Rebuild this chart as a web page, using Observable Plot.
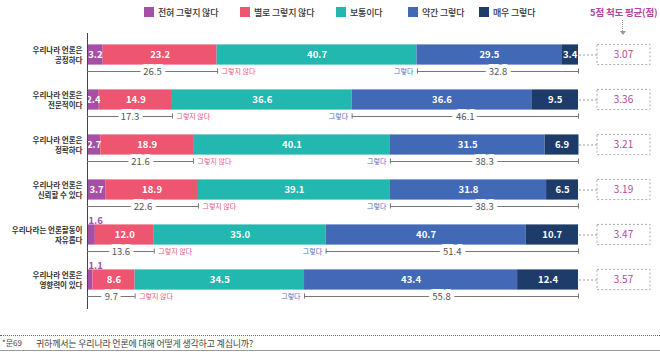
<!DOCTYPE html>
<html><head><meta charset="utf-8">
<script src="https://cdn.jsdelivr.net/npm/d3@7"></script>
<script src="https://cdn.jsdelivr.net/npm/@observablehq/plot@0.6"></script>
<style>
body{margin:0;background:#fff;font-family:"Noto Sans CJK KR","Noto Sans",sans-serif;}
#wrap{position:relative;width:660px;height:357px;overflow:hidden;}
.leg{position:absolute;top:6px;height:12px;font-size:9px;color:#333;display:flex;align-items:center;white-space:nowrap;font-weight:500;letter-spacing:-0.2px}
.sw{width:10px;height:10px;margin-right:4px}
#title{position:absolute;left:590px;top:5px;font-size:9.5px;font-weight:700;color:#b4479c;white-space:nowrap;letter-spacing:-0.2px}
#arrowline{position:absolute;left:622px;top:20px;height:11px;border-left:1px dotted #999}
#arrowhead{position:absolute;left:620px;top:31px;width:0;height:0;border-left:3px solid transparent;border-right:3px solid transparent;border-top:4px solid #999}
#chart{position:absolute;left:0;top:0}
#dash{position:absolute;left:0;top:335px;width:660px;border-top:1px dotted #666}
#solid{position:absolute;left:0;top:350px;width:660px;border-top:1px solid #999}
#qno{position:absolute;left:2px;top:337px;font-size:8px;color:#444}
#qtxt{position:absolute;left:36px;top:336.5px;font-size:9px;color:#444;white-space:nowrap;letter-spacing:-0.2px}
</style>
</head><body>
<div id="wrap">
  <div id="chart"></div>
  <div id="legend"></div>
  <div id="title">5점 척도 평균(점)</div>
  <div id="arrowline"></div>
  <div id="arrowhead"></div>
  <div id="dash"></div>
  <div id="qno">*문69</div>
  <div id="qtxt">귀하께서는 우리나라 언론에 대해 어떻게 생각하고 계십니까?</div>
  <div id="solid"></div>
</div>
<script>
const categories = ["우리나라 언론은\n공정하다", "우리나라 언론은\n전문적이다", "우리나라 언론은\n정확하다", "우리나라 언론은\n신뢰할 수 있다", "우리나라는 언론활동이\n자유롭다", "우리나라 언론은\n영향력이 있다"];
const seriesNames = ["전혀 그렇지 않다", "별로 그렇지 않다", "보통이다", "약간 그렇다", "매우 그렇다"];
const seriesColors = ["#a64fa6", "#ee5570", "#22b8b0", "#4169b6", "#1e3c6a"];
const s1 = [3.2, 2.4, 2.7, 3.7, 1.6, 1.1];
const s2 = [23.2, 14.9, 18.9, 18.9, 12.0, 8.6];
const s3 = [40.7, 36.6, 40.1, 39.1, 35.0, 34.5];
const s4 = [29.5, 36.6, 31.5, 31.8, 40.7, 43.4];
const s5 = [3.4, 9.5, 6.9, 6.5, 10.7, 12.4];
const disagree = [26.5, 17.3, 21.6, 22.6, 13.6, 9.7];
const agree = [32.8, 46.1, 38.3, 38.3, 51.4, 55.8];
const averages = [3.07, 3.36, 3.21, 3.19, 3.47, 3.57];
const legendLeft = [144, 240, 336, 408, 479];

const allSeries = [s1, s2, s3, s4, s5];
const table = [];
categories.forEach((c, i) => allSeries.forEach((s, j) => table.push({cat: c, series: seriesNames[j], value: s[i]})));
const rows = categories.map((c, i) => ({cat: c, disagree: disagree[i], agree: agree[i], avg: averages[i]}));

// legend
const leg = document.getElementById("legend");
seriesNames.forEach((n, i) => {
  const d = document.createElement("div");
  d.className = "leg"; d.style.left = legendLeft[i] + "px";
  d.innerHTML = `<span class="sw" style="background:${seriesColors[i]}"></span>${n}`;
  leg.appendChild(d);
});

const FONT = "'Noto Sans CJK KR','Noto Sans',sans-serif";
const BI = 12.4; // bar inset
const BD = 16.5; // bracket offset
const pink = "#e9557a", blue = "#4a6cb8";

const chart = Plot.plot({
  width: 660, height: 309,
  marginLeft: 87, marginRight: 5, marginTop: 29, marginBottom: 5,
  x: {domain: [0, 568 * 100 / 491], axis: null},
  y: {domain: categories, padding: 0, axis: null},
  color: {domain: seriesNames, range: seriesColors},
  style: {fontFamily: FONT, background: "transparent", overflow: "visible"},
  marks: [
    Plot.barX(table, Plot.stackX({x: "value", y: "cat", fill: "series", insetTop: BI, insetBottom: BI})),
    Plot.text(table, Plot.stackX({x: "value", y: "cat", text: d => d.value >= 2 ? d.value.toFixed(1) : null, fill: "white", fontSize: 9.5, fontWeight: "bold"})),
    Plot.text(table, Plot.stackX1({x: "value", y: "cat", text: d => d.value < 2 ? d.value.toFixed(1) : null, fill: seriesColors[0], fontSize: 9.5, fontWeight: "bold", textAnchor: "start", dx: 1, dy: -14.5})),
    Plot.ruleX([0], {stroke: "#444", insetTop: 4, insetBottom: -5}),
    Plot.ruleY(rows, {x1: 0, x2: "disagree", y: "cat", dy: BD, stroke: "#777"}),
    Plot.ruleY(rows, {x1: d => 100 - d.agree, x2: 100, y: "cat", dy: BD, stroke: "#777"}),
    Plot.tickX(rows, {x: "disagree", y: "cat", stroke: "#777", insetTop: 36.4, insetBottom: 3.4}),
    Plot.tickX(rows, {x: d => 100 - d.agree, y: "cat", stroke: "#777", insetTop: 36.4, insetBottom: 3.4}),
    Plot.tickX(rows, {x: () => 100, y: "cat", stroke: "#777", insetTop: 36.4, insetBottom: 3.4}),
    Plot.text(rows, {x: d => d.disagree / 2, y: "cat", dy: BD, text: d => d.disagree.toFixed(1), fill: "#555", stroke: "white", strokeWidth: 8, fontSize: 9.5}),
    Plot.text(rows, {x: d => 100 - d.agree / 2, y: "cat", dy: BD, text: d => d.agree.toFixed(1), fill: "#555", stroke: "white", strokeWidth: 8, fontSize: 9.5}),
    Plot.text(rows, {x: "disagree", y: "cat", dy: BD, dx: 4, text: () => "그렇지 않다", textAnchor: "start", fill: pink, fontSize: 7}),
    Plot.text(rows, {x: d => 100 - d.agree, y: "cat", dy: BD, dx: -4, text: () => "그렇다", textAnchor: "end", fill: blue, fontSize: 7}),
    Plot.ruleY(rows, {x1: 100, x2: 100, y: "cat", insetLeft: 1, insetRight: -19, stroke: "#999", strokeDasharray: "2,2"}),
    Plot.barX(rows, {x1: 100, x2: 100, y: "cat", insetLeft: 19, insetRight: -72, insetTop: BI, insetBottom: BI, fill: "white", stroke: "#aaa", strokeDasharray: "2,2"}),
    Plot.text(rows, {x: 100, dx: 45, y: "cat", text: d => d.avg.toFixed(2), fill: "#b4479c", fontSize: 10}),
    Plot.text(categories, {y: d => d, frameAnchor: "left", dx: -5, textAnchor: "end", text: d => d, fill: "#333", fontSize: 7.5, fontWeight: "bold", lineHeight: 1.3})
  ]
});
document.getElementById("chart").appendChild(chart);
</script>
</body></html>
